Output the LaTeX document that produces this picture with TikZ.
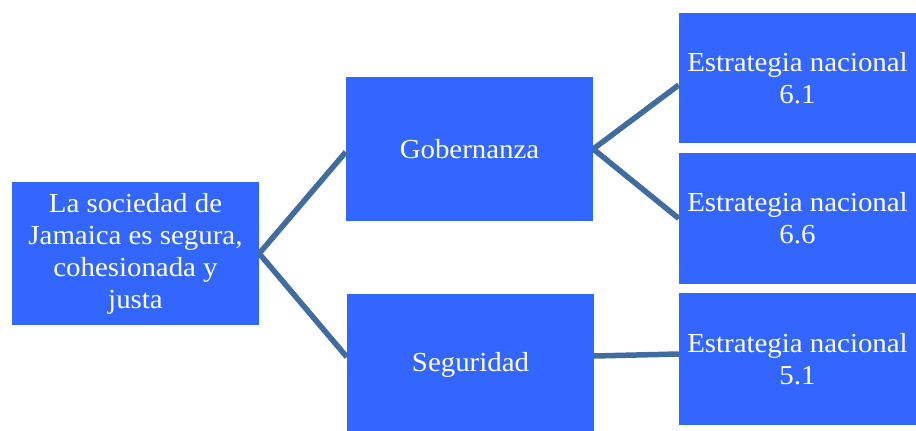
\documentclass[tikz,border=0pt]{standalone}
\usepackage{fontspec}
\setmainfont{Liberation Serif}[FakeStretch=1.05]
\definecolor{boxblue}{HTML}{3366FF}
\definecolor{linkblue}{HTML}{406C9F}
\begin{document}
\begin{tikzpicture}[x=1pt,y=-1pt,
  box/.style={rectangle, fill=boxblue, draw=none, inner sep=0pt, text=white, align=center,
    font=\fontsize{27.5}{32}\selectfont},
  link/.style={draw=linkblue, line width=5.5pt}]
\useasboundingbox (0,0) rectangle (916,431);
\fill[white] (0,0) rectangle (916,431);
\node[box, minimum width=247pt, minimum height=143pt] (root) at (135.5,253.5)
  {La sociedad de\\Jamaica es segura,\\cohesionada y\\justa};
\node[box, minimum width=247pt, minimum height=144pt] (gob) at (469.5,149) {Gobernanza};
\node[box, minimum width=247pt, minimum height=142pt] (seg) at (470.5,365) {Seguridad};
\node[box, minimum width=237pt, minimum height=130pt] (e61) at (797.5,78) {Estrategia nacional\\6.1};
\node[box, minimum width=237pt, minimum height=131pt] (e66) at (797.5,218.5) {Estrategia nacional\\6.6};
\node[box, minimum width=237pt, minimum height=132pt] (e51) at (797.5,359) {Estrategia nacional\\5.1};
\draw[link] (root.east) -- ([yshift=-3pt]gob.west);
\draw[link] (root.east) -- ([yshift=8pt]seg.west);
\draw[link] (gob.east) -- ([yshift=-7pt]e61.west);
\draw[link] (gob.east) -- (e66.west);
\draw[link] ([yshift=9pt]seg.east) -- ([yshift=5pt]e51.west);
\end{tikzpicture}
\end{document}
